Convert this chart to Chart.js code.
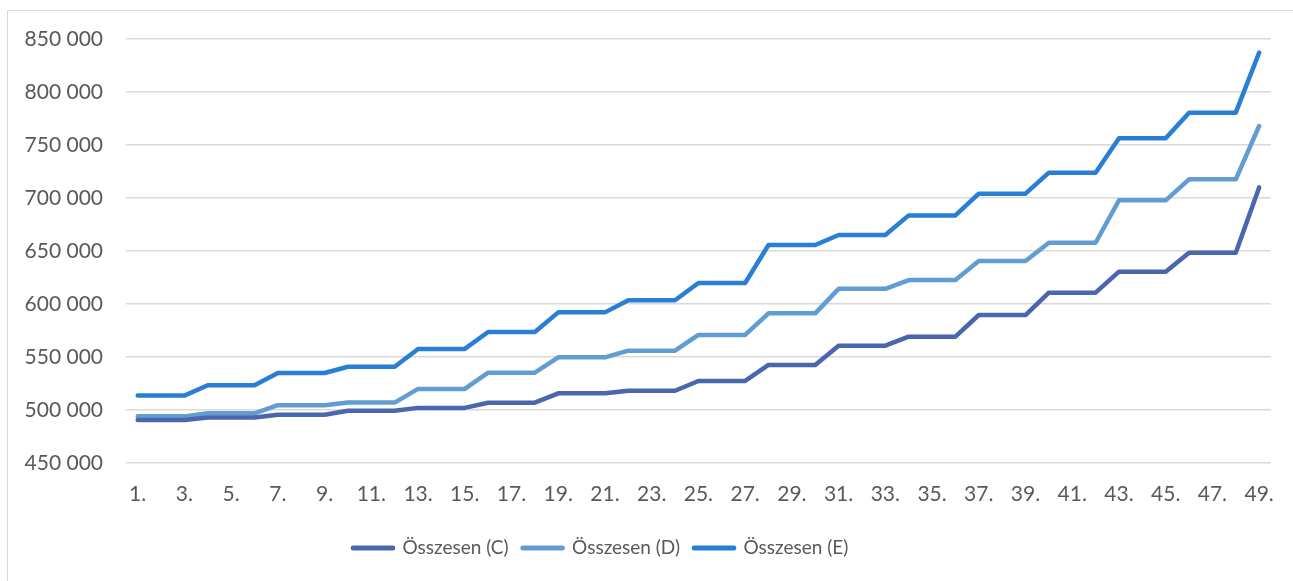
<!DOCTYPE html>
<html lang="hu">
<head>
    <meta charset="UTF-8">
    <title>Összesen</title>
    <script src="https://cdn.jsdelivr.net/npm/chart.js@4.4.0/dist/chart.umd.min.js"></script>
    <style>
        html, body { margin: 0; padding: 0; background: #fff; overflow: hidden; }
        #keret { position: absolute; left: 7px; top: 10px; width: 1300px; height: 600px; border: 1px solid #d9d9d9; }
        #grafikon { position: absolute; left: 0; top: 0; }
    </style>
</head>
<body>
    <div id="keret"></div>
    <canvas id="grafikon" width="1293" height="581"></canvas>

    <script>
        const cimkek = ['1.', '2.', '3.', '4.', '5.', '6.', '7.', '8.', '9.', '10.',
            '11.', '12.', '13.', '14.', '15.', '16.', '17.', '18.', '19.', '20.',
            '21.', '22.', '23.', '24.', '25.', '26.', '27.', '28.', '29.', '30.',
            '31.', '32.', '33.', '34.', '35.', '36.', '37.', '38.', '39.', '40.',
            '41.', '42.', '43.', '44.', '45.', '46.', '47.', '48.', '49.'];

        const osszesenC = [490600, 490600, 490600, 493000, 493000, 493000, 495500, 495500, 495500,
            499300, 499300, 499300, 502000, 502000, 502000, 506900, 506900, 506900,
            515700, 515700, 515700, 518200, 518200, 518200, 527400, 527400, 527400,
            542500, 542500, 542500, 560700, 560700, 560700, 569200, 569200, 569200,
            589600, 589600, 589600, 610700, 610700, 610700, 630500, 630500, 630500,
            648400, 648400, 648400, 710000];

        const osszesenD = [494000, 494000, 494000, 496900, 496900, 496900, 504500, 504500, 504500,
            507000, 507000, 507000, 519900, 519900, 519900, 535200, 535200, 535200,
            549700, 549700, 549700, 556000, 556000, 556000, 570800, 570800, 570800,
            591200, 591200, 591200, 614300, 614300, 614300, 622600, 622600, 622600,
            640500, 640500, 640500, 657800, 657800, 657800, 697800, 697800, 697800,
            717600, 717600, 717600, 767900];

        const osszesenE = [513600, 513600, 513600, 523400, 523400, 523400, 534900, 534900, 534900,
            540800, 540800, 540800, 557600, 557600, 557600, 573600, 573600, 573600,
            592100, 592100, 592100, 603500, 603500, 603500, 619800, 619800, 619800,
            655700, 655700, 655700, 665100, 665100, 665100, 683600, 683600, 683600,
            704100, 704100, 704100, 723900, 723900, 723900, 756300, 756300, 756300,
            780500, 780500, 780500, 837100];

        const sorozatNevek = ['Összesen (C)', 'Összesen (D)', 'Összesen (E)'];
        const szinek = ['#4a66ac', '#629dd1', '#297fd5'];

        const betu = { family: 'Lato', size: 21 };

        function ezres(v) {
            return String(v).replace(/\B(?=(\d{3})+(?!\d))/g, ' ');
        }

        function sorozat(i, adat) {
            return {
                label: sorozatNevek[i],
                data: adat,
                borderColor: szinek[i],
                backgroundColor: szinek[i],
                borderWidth: 4.5,
                borderCapStyle: 'round',
                borderJoinStyle: 'round',
                pointRadius: 0,
                tension: 0,
                fill: false
            };
        }

        // a jelmagyarazat kicsit balra van, mint az excelben
        const jelmagyarazatHely = {
            id: 'jelmagyarazatHely',
            beforeDraw(chart) {
                chart.legend.left = 339;
            }
        };

        const ctx = document.getElementById('grafikon').getContext('2d');
        new Chart(ctx, {
            type: 'line',
            data: {
                labels: cimkek,
                datasets: [sorozat(0, osszesenC), sorozat(1, osszesenD), sorozat(2, osszesenE)]
            },
            options: {
                responsive: false,
                animation: false,
                layout: { padding: { left: 0, right: 19, top: 39, bottom: 13.5 } },
                plugins: {
                    tooltip: { enabled: false },
                    legend: {
                        position: 'bottom',
                        align: 'start',
                        labels: {
                            boxWidth: 40,
                            boxHeight: 0.5,
                            padding: 14,
                            color: '#595959',
                            font: { family: 'Lato', size: 19 }
                        }
                    }
                },
                scales: {
                    x: {
                        offset: true,
                        grid: { display: false, drawTicks: false },
                        border: { display: false },
                        ticks: {
                            autoSkip: false,
                            maxRotation: 0,
                            padding: 19,
                            color: '#595959',
                            font: betu,
                            callback: function (v, i) { return i % 2 === 0 ? cimkek[i] : ''; }
                        },
                        afterFit: function (s) { s.height = 61.5; }
                    },
                    y: {
                        min: 450000,
                        max: 850000,
                        grid: { color: '#d9d9d9', lineWidth: 1.5, drawTicks: false },
                        border: { display: false },
                        ticks: {
                            stepSize: 50000,
                            padding: 23,
                            color: '#595959',
                            font: betu,
                            callback: function (v) { return ezres(v); }
                        },
                        afterFit: function (s) { s.width = 126; }
                    }
                }
            },
            plugins: [jelmagyarazatHely]
        });
    </script>
</body>
</html>
